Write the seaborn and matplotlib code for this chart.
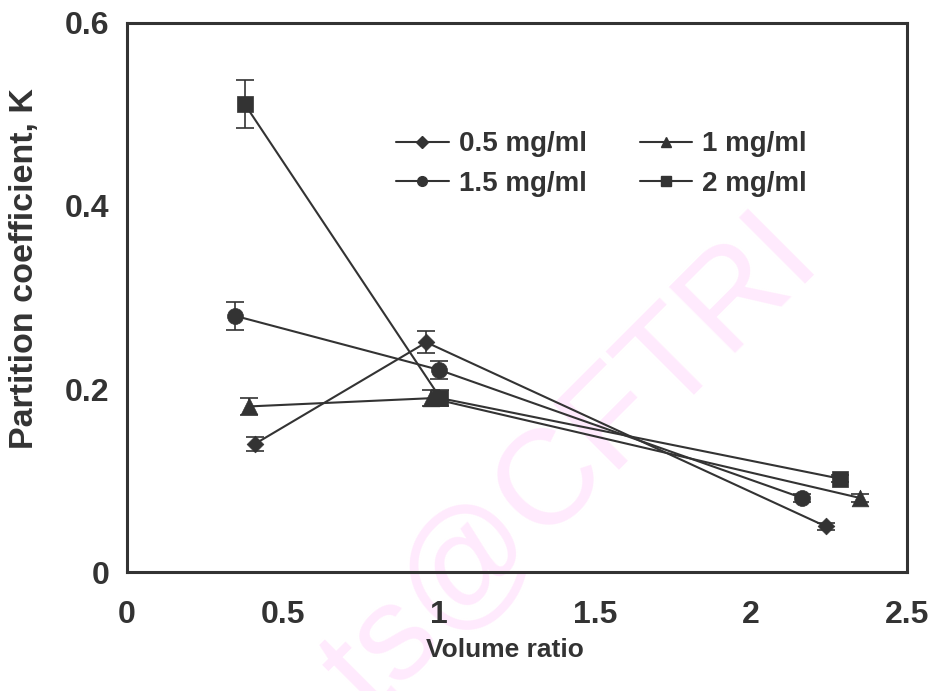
import numpy as np
import pandas as pd
import seaborn as sns
import matplotlib
matplotlib.use("Agg")
import matplotlib.pyplot as plt
from matplotlib.lines import Line2D

# Partition coefficient K vs. volume ratio for four concentrations
series_names = ["0.5 mg/ml", "1 mg/ml", "1.5 mg/ml", "2 mg/ml"]

vr_05 = [0.41, 0.96, 2.24]
k_05 = [0.140, 0.251, 0.050]
err_05 = [0.008, 0.012, 0.004]

vr_10 = [0.392, 0.975, 2.35]
k_10 = [0.181, 0.190, 0.081]
err_10 = [0.009, 0.009, 0.004]

vr_15 = [0.346, 1.00, 2.165]
k_15 = [0.280, 0.221, 0.081]
err_15 = [0.015, 0.010, 0.004]

vr_20 = [0.378, 1.005, 2.287]
k_20 = [0.511, 0.190, 0.102]
err_20 = [0.026, 0.009, 0.004]

x_ticks = [0, 0.5, 1, 1.5, 2, 2.5]
y_ticks = [0, 0.2, 0.4, 0.6]

frames = []
for name, xs, ys, es in zip(series_names,
                            [vr_05, vr_10, vr_15, vr_20],
                            [k_05, k_10, k_15, k_20],
                            [err_05, err_10, err_15, err_20]):
    frames.append(pd.DataFrame({"ratio": xs, "K": ys, "err": es, "conc": name}))
df = pd.concat(frames, ignore_index=True)

sns.set_theme(style="white")
plt.rcParams["font.family"] = ["Liberation Sans", "DejaVu Sans"]
plt.rcParams["font.weight"] = "bold"

ink = "#333333"
markers = {"0.5 mg/ml": "D", "1 mg/ml": "^", "1.5 mg/ml": "o", "2 mg/ml": "s"}
msizes = {"0.5 mg/ml": 8.5, "1 mg/ml": 12, "1.5 mg/ml": 11.5, "2 mg/ml": 11.5}

fig = plt.figure(figsize=(9.33, 6.91), dpi=100)
ax = fig.add_axes([0.136, 0.172, 0.836, 0.795])
ax.patch.set_alpha(0)

# faint diagonal watermark, drawn beneath everything else
fig.text(0.881, 0.619, "ts@CFTRI", color="#ffeafd", fontsize=97,
         fontweight="normal", rotation=45, rotation_mode="anchor",
         ha="right", va="baseline", zorder=-1)

sns.lineplot(data=df, x="ratio", y="K", units="conc", estimator=None,
             sort=False, color=ink, linewidth=1.5, legend=False, ax=ax, zorder=2)

for name, grp in df.groupby("conc", sort=False):
    ax.errorbar(grp["ratio"], grp["K"], yerr=grp["err"], fmt="none",
                ecolor=ink, elinewidth=1.2, capsize=6.5, capthick=1.2, zorder=3)
    sns.scatterplot(x=grp["ratio"], y=grp["K"], marker=markers[name],
                    s=msizes[name] ** 2, color=ink, edgecolor=ink,
                    linewidth=0.5, ax=ax, zorder=4, legend=False)

ax.set_xlim(0, 2.5)
ax.set_ylim(0, 0.6)
ax.set_xticks(x_ticks)
ax.set_xticklabels([f"{v:g}" for v in x_ticks])
ax.set_yticks(y_ticks)
ax.set_yticklabels([f"{v:g}" for v in y_ticks])

ax.tick_params(axis="both", direction="out", length=8, width=1,
               color="#777777", labelsize=23, labelcolor=ink)
ax.tick_params(axis="x", pad=12)
ax.tick_params(axis="y", pad=4.5)
for lab in ax.get_xticklabels() + ax.get_yticklabels():
    lab.set_fontweight("bold")
for sp in ax.spines.values():
    sp.set_visible(True)
    sp.set_color(ink)
    sp.set_linewidth(2.2)

ax.set_xlabel("Volume ratio", fontsize=19, fontweight="bold", color=ink)
ax.xaxis.set_label_coords(0.485, -0.12)
ax.set_ylabel("Partition coefficient, K", fontsize=24.5, fontweight="bold", color=ink)
ax.yaxis.set_label_coords(-0.112, 0.553)

legend_order = ["0.5 mg/ml", "1.5 mg/ml", "1 mg/ml", "2 mg/ml"]
handles = [Line2D([0], [0], color=ink, lw=1.5, marker=markers[n],
                  markersize=7 if n != "0.5 mg/ml" else 6, markerfacecolor=ink,
                  markeredgecolor=ink) for n in legend_order]
leg = ax.legend(handles, legend_order, ncol=2, frameon=False,
                loc="upper left", bbox_to_anchor=(0.313, 0.848),
                handlelength=1.9, handletextpad=0.36, columnspacing=1.9,
                labelspacing=0.5,
                prop={"size": 20, "weight": "bold"})
for t in leg.get_texts():
    t.set_color(ink)

fig.savefig("out.png", dpi=100)
